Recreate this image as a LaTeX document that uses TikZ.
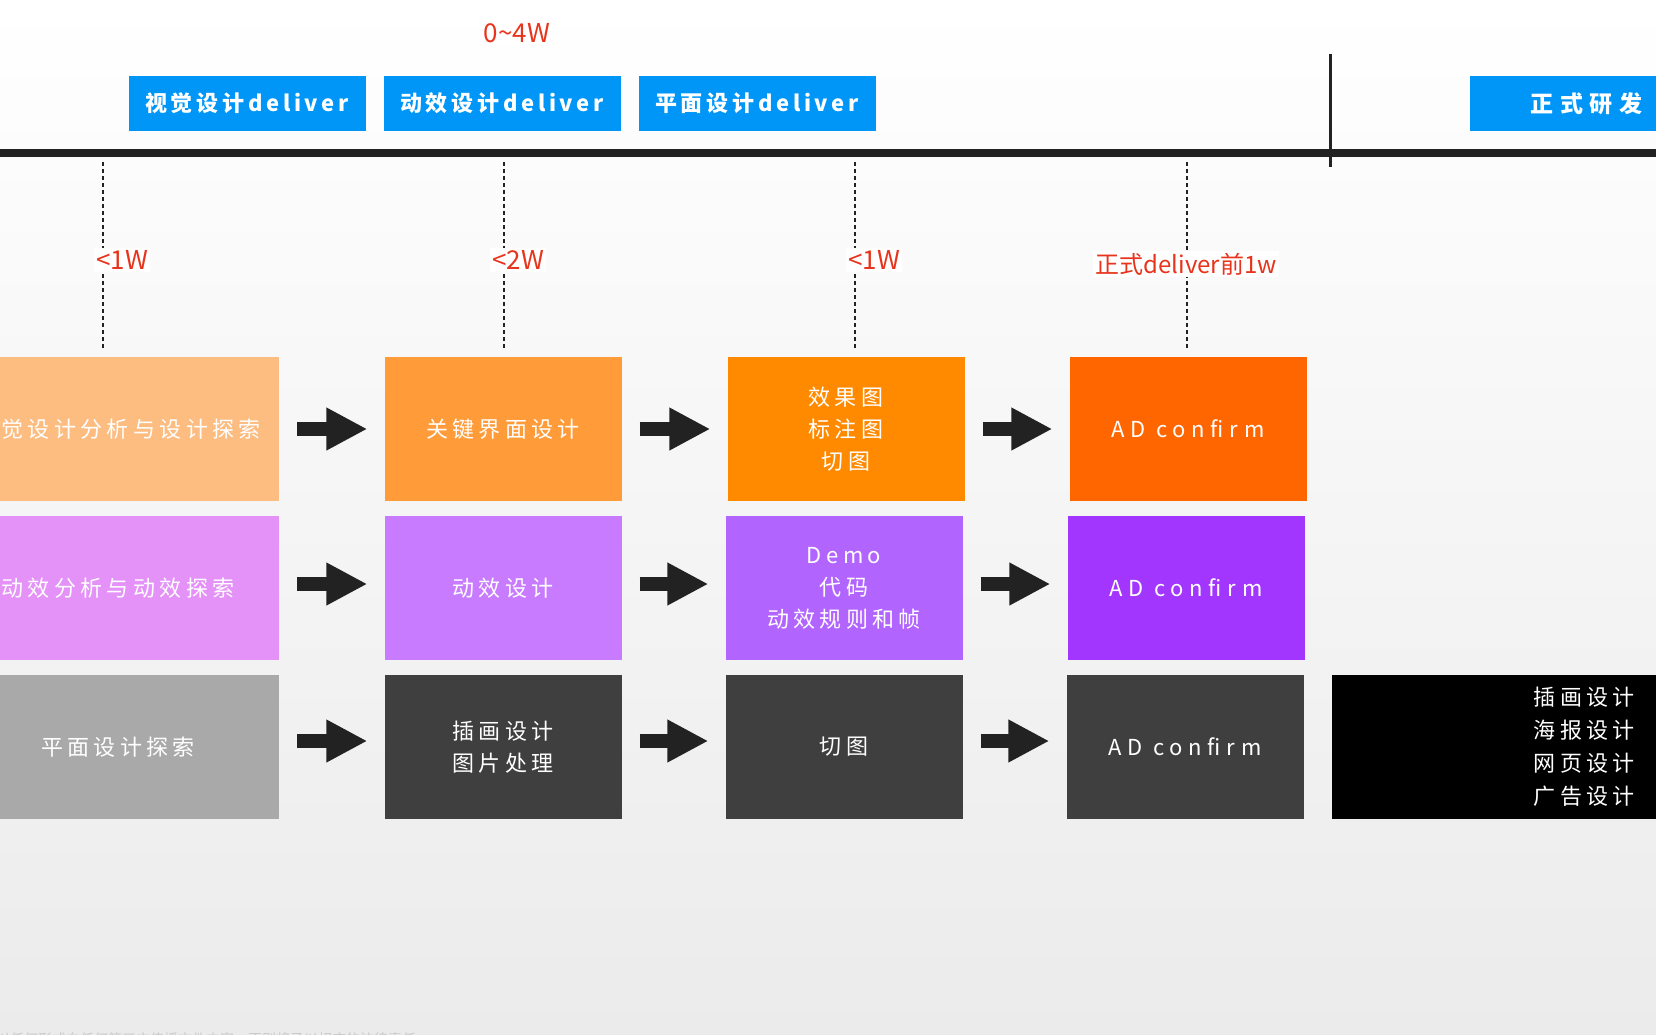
\documentclass[tikz,border=0pt]{standalone}
\usepackage{fontspec}
\setmainfont{Noto Sans CJK SC}
\newfontfamily\spaced[LetterSpace=20]{Noto Sans CJK SC}
\newfontfamily\latinspaced[LetterSpace=26]{Noto Sans CJK SC}
\newfontfamily\headspaced[LetterSpace=17]{Noto Sans CJK SC}
\newfontfamily\widespaced[LetterSpace=28]{Noto Sans CJK SC}
\usepackage{xcolor}
\usetikzlibrary{arrows.meta,positioning}

\definecolor{bgbottom}{HTML}{EBEBEB}
\definecolor{deliverblue}{HTML}{0096F8}
\definecolor{barblack}{HTML}{222222}
\definecolor{weekred}{HTML}{E8341C}
\definecolor{visA}{HTML}{FDBC80}
\definecolor{visB}{HTML}{FF9B38}
\definecolor{visC}{HTML}{FF8A00}
\definecolor{visD}{HTML}{FF6600}
\definecolor{motA}{HTML}{E491F8}
\definecolor{motB}{HTML}{C97BFF}
\definecolor{motC}{HTML}{B264FF}
\definecolor{motD}{HTML}{A236FF}
\definecolor{graA}{HTML}{A9A9A9}
\definecolor{graB}{HTML}{3F3F3F}
\definecolor{notegray}{HTML}{CACACA}

\begin{document}
\begin{tikzpicture}[x=1pt,y=-1pt,node distance=343pt]
	\tikzstyle{stage} = [rectangle, minimum width=237pt, minimum height=144pt, text=white, align=center, inner sep=0pt, font=\spaced\fontsize{22}{32}\selectfont]
	\tikzstyle{confirm} = [stage, font=\latinspaced\fontsize{22}{32}\selectfont]
	\tikzstyle{deliver} = [rectangle, fill=deliverblue, minimum width=237pt, minimum height=55pt, text=white, inner sep=0pt, font=\headspaced\bfseries\fontsize{22}{28}\selectfont]
	\tikzstyle{arrow} = [line width=14pt, draw=barblack, -{Triangle[width=40pt,length=41pt]}, shorten <=18pt, shorten >=17pt]
	\tikzstyle{guide} = [line width=2pt, draw=barblack, dash pattern=on 4pt off 3pt, shorten >=8pt]
	\tikzstyle{week} = [fill=white, text=weekred, inner sep=2pt, font=\fontsize{26}{30}\selectfont]
  \useasboundingbox (0,0) rectangle (1656,1035);
  \clip (0,0) rectangle (1656,1035);
  \shade[top color=white, bottom color=bgbottom] (0,0) rectangle (1656,1035);

  % timeline
  \coordinate (tl) at (0,153.5);
  \coordinate (tr) at (1656,153.5);
  \coordinate (ms) at (1330,54);
  \draw[line width=8pt, draw=barblack] (tl) -- (tr);
  \draw[line width=3pt, draw=barblack] (ms) -- ++(0,113);

  \node(dvis)[deliver] at (247,103.5) {视觉设计deliver};
  \node(dmot)[deliver, right of=dvis, node distance=255pt] {动效设计deliver};
  \node(dgra)[deliver, right of=dmot, node distance=255pt] {平面设计deliver};
  \node(dev)[deliver, minimum width=0pt, text width=114pt, inner xsep=58pt, align=right, font=\widespaced\bfseries\fontsize{23}{28}\selectfont] at (1585,103.5) {正式研发};
  \node(span)[week] at (517,33) {0\textasciitilde 4W};

  % three rows
  \node(vis1)[stage, fill=visA, minimum width=322pt] at (118,429) {视觉设计分析与设计探索};
  \node(vis2)[stage, fill=visB] at (503,429) {关键界面设计};
  \node(vis3)[stage, fill=visC, right of=vis2] {效果图\\标注图\\切图};
  \node(vis4)[confirm, fill=visD, right of=vis3, node distance=342pt] {AD confirm};

  \node(mot1)[stage, fill=motA, minimum width=322pt, below of=vis1, node distance=159pt] {动效分析与动效探索};
  \node(mot2)[stage, fill=motB, below of=vis2, node distance=159pt] {动效设计};
  \node(mot3)[stage, fill=motC, right of=mot2, node distance=341pt] {Demo\\代码\\动效规则和帧};
  \node(mot4)[confirm, fill=motD, right of=mot3, node distance=342pt] {AD confirm};

  \node(gra1)[stage, fill=graA, minimum width=322pt, below of=mot1, node distance=159pt] {平面设计探索};
  \node(gra2)[stage, fill=graB, below of=mot2, node distance=159pt] {插画设计\\图片处理};
  \node(gra3)[stage, fill=graB, right of=gra2, node distance=341pt] {切图};
  \node(gra4)[confirm, fill=graB, right of=gra3, node distance=341pt] {AD confirm};
  \node(gra5)[stage, fill=black, minimum width=0pt, text width=238pt, inner xsep=65pt, align=right, font=\spaced\fontsize{22}{33}\selectfont] at (1516,747) {插画设计\\海报设计\\网页设计\\广告设计};

  \draw [arrow] (vis1) -- (vis2);
  \draw [arrow] (vis2) -- (vis3);
  \draw [arrow] (vis3) -- (vis4);
  \draw [arrow] ([yshift=4pt]mot1.east) -- ([yshift=4pt]mot2.west);
  \draw [arrow] ([yshift=4pt]mot2.east) -- ([yshift=4pt]mot3.west);
  \draw [arrow] ([yshift=4pt]mot3.east) -- ([yshift=4pt]mot4.west);
  \draw [arrow] ([yshift=6pt]gra1.east) -- ([yshift=6pt]gra2.west);
  \draw [arrow] ([yshift=6pt]gra2.east) -- ([yshift=6pt]gra3.west);
  \draw [arrow] ([yshift=6pt]gra3.east) -- ([yshift=6pt]gra4.west);

  % time limits
  \coordinate (g1) at (103,162);
  \coordinate (g2) at (504,162);
  \coordinate (g3) at (855,162);
  \coordinate (g4) at (1187,162);
  \draw[guide] (g1) -- (g1 |- vis1.north);
  \draw[guide] (g2) -- (g2 |- vis2.north);
  \draw[guide] (g3) -- (g3 |- vis3.north);
  \draw[guide] (g4) -- (g4 |- vis4.north);
  \node(w1)[week] at (122,260) {<1W};
  \node(w2)[week] at (518,260) {<2W};
  \node(w3)[week] at (874,260) {<1W};
  \node(w4)[week, font=\fontsize{24}{28}\selectfont] at (1186,264) {正式deliver前1w};

  \node(note)[anchor=west, text=notegray, inner sep=0pt, font=\fontsize{14}{16}\selectfont] at (-4,1039) {以任何形式向任何第三方传播文件内容，否则将予以相应的法律责任};
\end{tikzpicture}
\end{document}
